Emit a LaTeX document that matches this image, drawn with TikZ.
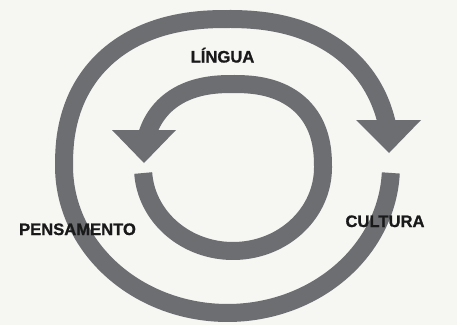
\documentclass[tikz,border=0pt]{standalone}
\usepackage{fontspec}
\setmainfont{Liberation Sans}[BoldFeatures={FakeBold=1}]
\definecolor{bandgray}{RGB}{108,110,114}
\definecolor{paper}{RGB}{246,246,243}
\tikzset{
  band/.style={draw=bandgray, line width=18pt, line cap=butt, line join=round},
  head/.style={fill=bandgray, draw=none},
  lbl/.style={font=\fontsize{16.6}{16.6}\selectfont\bfseries, text=black!90, inner sep=0pt, anchor=base}
}
\begin{document}
\begin{tikzpicture}[x=1pt,y=1pt]
\fill[paper] (0,0) rectangle (457,325);
\useasboundingbox (0,0) rectangle (457,325);
% outer loop: bottom half ellipse, top half slightly flattened
\draw[band] plot[domain=-2.7:-180, samples=90] ({227.5+163.5*cos(\x)},{159+147*sin(\x)})
  -- plot[domain=179.6:12.9, samples=97] ({227.5+163.5*cos(\x)*abs(cos(\x))^(-0.1304)},{159+147*sin(\x)^0.8696});
\coordinate (oa) at (356,205);
\coordinate (ob) at (421,205);
\coordinate (ot) at (389,172);
\fill[head] (oa) -- (ob) -- (ot) -- cycle;
% inner loop
\draw[band] plot[domain=183.8:360, samples=80] ({233+90*cos(\x)},{157.5+83.5*sin(\x)})
  -- plot[domain=0.4:161.9, samples=97] ({233+90*cos(\x)*abs(cos(\x))^(-0.1667)},{157.5+83.5*sin(\x)^0.8333});
\coordinate (ia) at (112,195);
\coordinate (ib) at (176,195);
\coordinate (it) at (144,162);
\fill[head] (ia) -- (ib) -- (it) -- cycle;
% labels
\node[lbl] (lingua) at (222.5,262.5) {LÍNGUA};
\node[lbl] (pens) at (77.5,90) {PENSAMENTO};
\node[lbl] (cult) at (385,98) {CULTURA};
\end{tikzpicture}
\end{document}
